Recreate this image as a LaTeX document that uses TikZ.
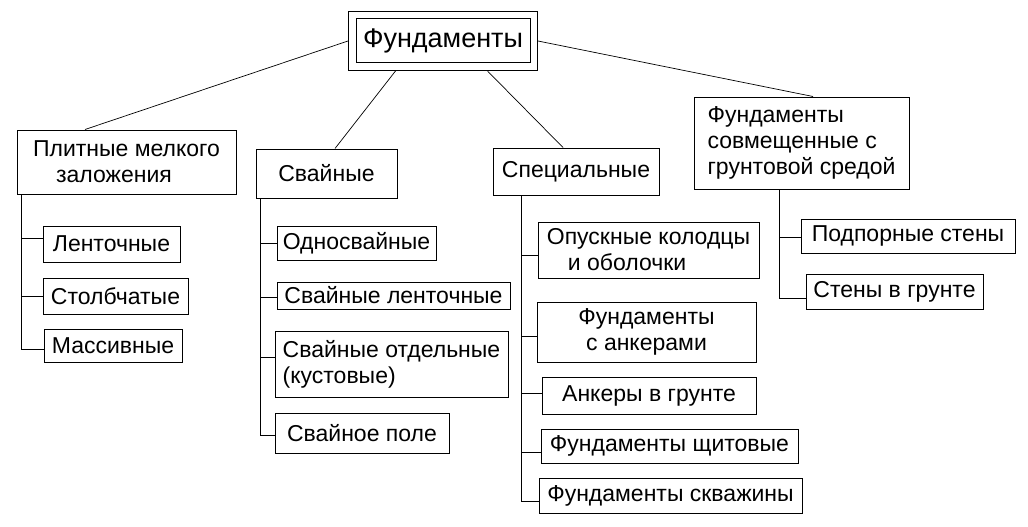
\documentclass[tikz,border=0pt]{standalone}
\usepackage{fontspec}
\setmainfont{Liberation Sans}
\usetikzlibrary{fit}

\begin{document}
\begin{tikzpicture}[x=1pt, y=-1pt,
    caixa/.style={draw, line width=1pt, inner sep=0pt, font=\fontsize{23}{26}\selectfont},
    liga/.style={line width=1pt},
    ramo/.style={line width=0.7pt}]
    \useasboundingbox (0,0) rectangle (1028,527);

    % Raiz
    \node[caixa, minimum width=174pt, minimum height=44pt, font=\fontsize{27}{32}\selectfont] (raizin) at (443,41) {Фундаменты};
    \node[draw, line width=1pt, fit=(raizin), inner sep=7pt] (raiz) {};

    % Grupos
    \node[caixa, minimum width=219pt, minimum height=64pt, align=left] (plit) at (126.5,162) {Плитные мелкого\\\hspace*{23pt}заложения};
    \node[caixa, minimum width=141pt, minimum height=49pt] (svai) at (326.5,173.5) {Свайные};
    \node[caixa, minimum width=166pt, minimum height=47pt] (spec) at (576,171.5) {Специальные};
    \node[caixa, minimum width=215pt, minimum height=92pt, align=left] (sovm) at (801.5,143) {Фундаменты\\совмещенные с\\грунтовой средой};

    % Plitnye
    \node[caixa, minimum width=137pt, minimum height=36pt] (lent) at (111.5,244) {Ленточные};
    \node[caixa, minimum width=145pt, minimum height=36pt] (stolb) at (115.5,296) {Столбчатые};
    \node[caixa, minimum width=138pt, minimum height=33pt] (mass) at (113,345.5) {Массивные};

    % Svajnye
    \node[caixa, minimum width=159pt, minimum height=34pt] (odno) at (356.5,243) {Односвайные};
    \node[caixa, minimum width=233pt, minimum height=27pt] (svlent) at (393.5,295.5) {Свайные ленточные};
    \node[caixa, minimum width=233pt, minimum height=66pt, align=left] (svotd) at (391.5,364) {Свайные отдельные\\(кустовые)};
    \node[caixa, minimum width=174pt, minimum height=40pt] (svpole) at (362,433) {Свайное поле};

    % Specialnye
    \node[caixa, minimum width=221pt, minimum height=56pt, align=left] (opusk) at (648.5,250) {Опускные колодцы\\\hspace*{21pt}и оболочки};
    \node[caixa, minimum width=219pt, minimum height=60pt, align=center] (ankf) at (646.5,332) {Фундаменты\\с анкерами};
    \node[caixa, minimum width=214pt, minimum height=37pt] (ankgr) at (649,395.5) {Анкеры в грунте};
    \node[caixa, minimum width=257pt, minimum height=34pt] (shchit) at (669.5,446) {Фундаменты щитовые};
    \node[caixa, minimum width=263pt, minimum height=35pt] (skvaz) at (670.5,495.5) {Фундаменты скважины};

    % Sovmeshchennye
    \node[caixa, minimum width=214pt, minimum height=34pt] (podp) at (908,236) {Подпорные стены};
    \node[caixa, minimum width=177pt, minimum height=35pt] (stgr) at (894.5,291.5) {Стены в грунте};

    % Ligacoes da raiz
    \draw[ramo] (raiz.west) -- ([xshift=-41.5pt]plit.north);
    \draw[ramo] ([xshift=-47.5pt]raiz.south) -- ([xshift=8.5pt]svai.north);
    \draw[ramo] ([xshift=44.5pt]raiz.south) -- ([xshift=-13pt]spec.north);
    \draw[ramo] (raiz.east) -- ([xshift=11.5pt]sovm.north);

    % Troncos
    \coordinate (tplit) at ([xshift=5pt]plit.south west);
    \coordinate (tsvai) at ([xshift=5pt]svai.south west);
    \coordinate (tspec) at ([xshift=29pt]spec.south west);
    \coordinate (tsovm) at ([xshift=86pt]sovm.south west);

    \foreach \f/\d in {lent/6, stolb/0, mass/-3.5}
        \draw[liga] (tplit) |- ([yshift=\d pt]\f.west);
    \foreach \f/\d in {odno/0, svlent/-1.5, svotd/7, svpole/-2}
        \draw[liga] (tsvai) |- ([yshift=\d pt]\f.west);
    \foreach \f/\d in {opusk/-5, ankf/-4, ankgr/2.5, shchit/-6, skvaz/-5.5}
        \draw[liga] (tspec) |- ([yshift=\d pt]\f.west);
    \foreach \f/\d in {podp/-1, stgr/-6.5}
        \draw[liga] (tsovm) |- ([yshift=\d pt]\f.west);
\end{tikzpicture}
\end{document}
